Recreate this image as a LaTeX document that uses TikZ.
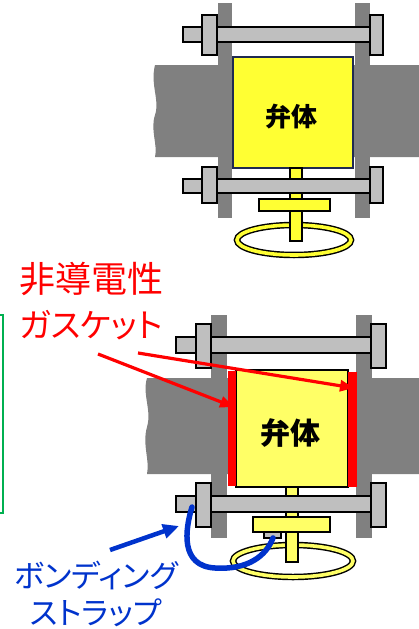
\documentclass[tikz,border=0pt]{standalone}
\usepackage{fontspec}
\usepackage{xcolor}
\usepackage{tikz}
\usetikzlibrary{arrows.meta, positioning, calc}

\newfontfamily\jpfont[RawFeature=+palt]{Noto Sans CJK JP}

\definecolor{pipegray}{HTML}{808080}
\definecolor{boltgray}{HTML}{BFBFBF}
\definecolor{bodyyellow}{HTML}{FFFF66}
\definecolor{bodyyellowA}{HTML}{FFFF33}
\definecolor{navyline}{HTML}{1F2A50}
\definecolor{labelred}{HTML}{FF0000}
\definecolor{strapblue}{HTML}{0033CC}
\definecolor{framegreen}{HTML}{00B050}

\begin{document}
\begin{tikzpicture}[
    x=1pt, y=-1pt,
    %% Piping and flanges
    pipe/.style   = {fill=pipegray},
    flange/.style = {fill=pipegray},
    %% Bolts and nuts
    rod/.style    = {draw=black, fill=boltgray, line width=1.2pt},
    nut/.style    = {draw=black, fill=boltgray, line width=1.2pt},
    %% Valve parts
    vbody/.style  = {draw=black, fill=bodyyellow, line width=1.2pt},
    vpart/.style  = {draw=black, fill=bodyyellow, line width=1.2pt},
    gasket/.style = {fill=labelred},
    %% Labels
    redlbl/.style  = {font=\jpfont, text=labelred, align=left, inner sep=0pt},
    bluelbl/.style = {font=\jpfont\fontsize{31}{37}\selectfont, text=strapblue,
                      align=center, inner sep=0pt},
    bodylbl/.style = {font=\jpfont\bfseries, inner sep=0pt},
    %% Arrows
    rarr/.style = {-{Triangle[length=14pt, width=11pt]}, line width=3.2pt, labelred},
    barr/.style = {-{Triangle[length=16pt, width=14pt]}, line width=4.5pt, strapblue},
  ]
  \useasboundingbox (0,0) rectangle (419,629);

  %% ── Upper valve (plain flanges) ──────────────────────────────────────
  \fill[pipe] (155,65) .. controls (150,85) and (160,100) .. (155,115)
              .. controls (150,130) and (158,145) .. (155,157)
              -- (419,157) -- (419,65) -- cycle;
  \fill[flange] (218,3) rectangle (232,218);
  \fill[flange] (355,3) rectangle (370,218);
  \draw[vbody, fill=bodyyellowA, draw=navyline] (233,57) rectangle (353,168);
  \node[bodylbl, font=\jpfont\bfseries\fontsize{26}{30}\selectfont] (bodyA) at (291,117) {弁体};

  \draw[black, line width=6.5pt] (294,240) ellipse [x radius=57, y radius=15];
  \draw[bodyyellowA, line width=3.6pt] (294,240) ellipse [x radius=57, y radius=15];
  \draw[vpart, fill=bodyyellowA] (290,168) rectangle (302,241);
  \draw[vpart, fill=bodyyellowA] (259,199) rectangle (330,211);

  \draw[rod] (183,27) rectangle (370,42);
  \draw[nut] (202,15) rectangle (217,55);
  \draw[nut] (370,15) rectangle (383,55);
  \draw[rod] (183,179) rectangle (370,193);
  \draw[nut] (202,167) rectangle (217,203);
  \draw[nut] (370,167) rectangle (383,203);

  %% ── Lower valve (insulated flanges + bonding) ─────────────────────────
  \fill[pipe] (147,378) .. controls (142,395) and (152,410) .. (147,427)
              .. controls (142,445) and (150,460) .. (147,474)
              -- (419,474) -- (419,378) -- cycle;
  \fill[flange] (211,315) rectangle (227,538);
  \fill[flange] (356,315) rectangle (372,538);
  \draw[vbody] (236,370) rectangle (348,487);
  \fill[gasket] (228,371) rectangle (236,486);
  \fill[gasket] (348,372) rectangle (357,487);
  \node[bodylbl, font=\jpfont\bfseries\fontsize{30}{34}\selectfont] (bodyB) at (290,433) {弁体};

  \draw[black, line width=6.5pt] (293,561) ellipse [x radius=60, y radius=16];
  \draw[bodyyellow, line width=3.6pt] (293,561) ellipse [x radius=60, y radius=16];
  \draw[vpart] (286,487) rectangle (298,562);
  \draw[vpart] (253,517) rectangle (330,532);
  \draw[nut] (264,532) rectangle (281,538);

  \draw[rod] (176,496) rectangle (371,512);
  \draw[nut] (196,483) rectangle (211,527);
  \draw[nut] (371,483) rectangle (386,527);
  \draw[rod] (176,337) rectangle (371,353);
  \draw[nut] (196,324) rectangle (211,368);
  \draw[nut] (371,324) rectangle (386,368);

  %% bonding strap from bolt to wheel bracket
  \coordinate (strapA) at (192,507);
  \coordinate (strapB) at (273,538);
  \draw[strapblue, line width=5.5pt, line cap=round]
    (strapA) .. controls (185,530) and (180,566) .. (215,568)
             .. controls (248,570) and (266,556) .. (strapB);

  %% ── Labels ────────────────────────────────────────────────────────────
  \node[redlbl, anchor=north west] (gasketlbl) at (19,262)
    {\fontsize{36}{40}\selectfont 非導電性\\[14pt]\fontsize{33}{40}\selectfont ガスケット};
  \node[bluelbl] (strapLbl) at (96,594) {ボンディング\\ストラップ};

  \coordinate (gasA) at (98,354);
  \coordinate (gasB) at (138,353);
  \coordinate (gasL) at (234,407);
  \coordinate (gasR) at (354,388);
  \draw[rarr] (gasA) -- (gasL);
  \draw[rarr] (gasB) -- (gasR);

  \coordinate (bndA) at (110,550);
  \coordinate (bndB) at (179,526);
  \draw[barr] (bndA) -- (bndB);

  %% ── Edge of neighbouring panel ───────────────────────────────────────
  \draw[framegreen, line width=2.8pt] (-20,315) rectangle (3,513);

\end{tikzpicture}
\end{document}
